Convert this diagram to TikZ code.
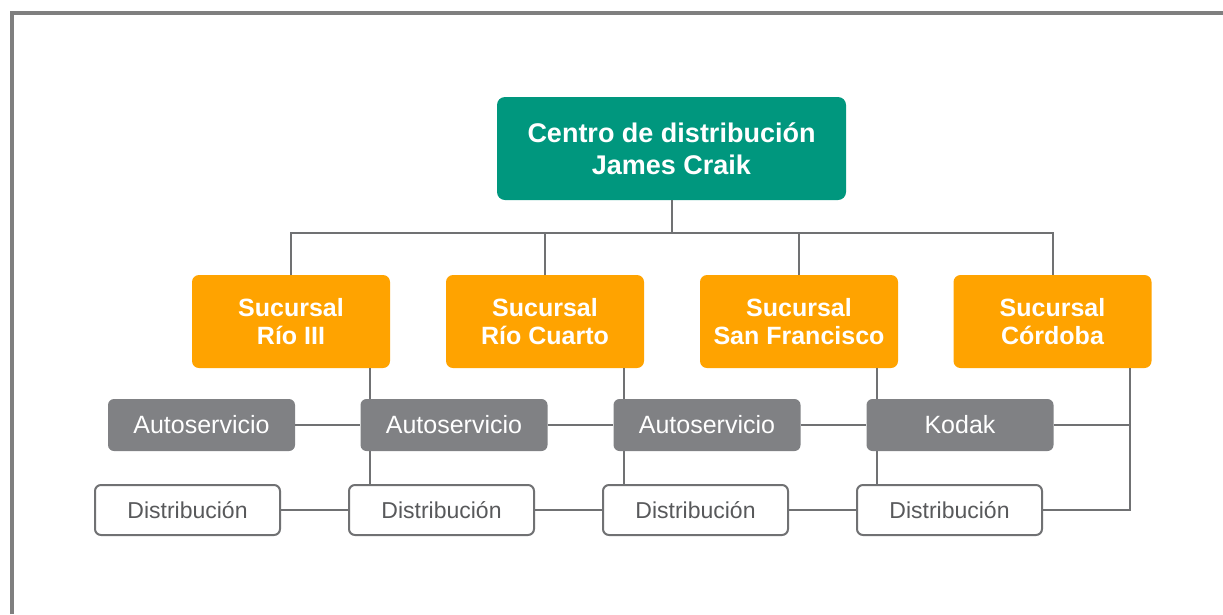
\documentclass[tikz,border=0pt]{standalone}
\usepackage{fontspec}
\setmainfont{Liberation Sans}
\usepackage{xcolor}
\definecolor{centroteal}{HTML}{00977E}
\definecolor{sucorange}{HTML}{FFA300}
\definecolor{autogray}{HTML}{808184}
\definecolor{linegray}{HTML}{707173}
\definecolor{textgray}{HTML}{58595B}
\definecolor{framegray}{HTML}{7F7F7F}
\usepackage{tikz}
\usetikzlibrary{positioning}
\tikzstyle{centro}=[rectangle, rounded corners=8, minimum width=349, minimum height=103, inner sep=0, align=center, fill=centroteal, text=white, font=\fontsize{27}{32}\selectfont\bfseries]
\tikzstyle{sucursal}=[rectangle, rounded corners=7, minimum width=198, minimum height=93, inner sep=0, align=center, fill=sucorange, text=white, font=\fontsize{25}{28}\selectfont\bfseries]
\tikzstyle{auto}=[rectangle, rounded corners=6, minimum width=187, minimum height=52, inner sep=0, align=center, fill=autogray, text=white, font=\fontsize{25}{28}\selectfont]
\tikzstyle{distrib}=[rectangle, rounded corners=6, minimum width=185, minimum height=50, inner sep=0, align=center, draw=linegray, line width=2, fill=white, text=textgray, font=\fontsize{23}{26}\selectfont]
\tikzstyle{line}=[line width=2, draw=linegray]

\begin{document}
\begin{tikzpicture}[x=1pt, y=-1pt]
		\useasboundingbox (0,0) rectangle (1223,614);
		\draw[line width=4, framegray] (12,614) -- (12,13) -- (1223,13);

		\node(n1)[centro] at (671.5,148.5) {Centro de distribución\\James Craik};
		\coordinate(bus) at (671.5,233);

		\node(n2-1)[sucursal] at (291,321.5) {Sucursal\\Río III};
		\node(n2-2)[sucursal] at (545,321.5) {Sucursal\\Río Cuarto};
		\node(n2-3)[sucursal] at (799,321.5) {Sucursal\\San Francisco};
		\node(n2-4)[sucursal] at (1052.5,321.5) {Sucursal\\Córdoba};

		\node(n3-1)[auto] at (201.5,425) {Autoservicio};
		\node(n3-2)[auto] at (454,425) {Autoservicio};
		\node(n3-3)[auto] at (707,425) {Autoservicio};
		\node(n3-4)[auto] at (960,425) {Kodak};

		\node(n4-1)[distrib] at (187.5,510) {Distribución};
		\node(n4-2)[distrib] at (441.5,510) {Distribución};
		\node(n4-3)[distrib] at (695.5,510) {Distribución};
		\node(n4-4)[distrib] at (949.5,510) {Distribución};

		\coordinate(v1) at (370,368);
		\coordinate(v2) at (624,368);
		\coordinate(v3) at (877,368);
		\coordinate(v4) at (1130,368);

		\draw[line](n1.south)--(bus);
		\draw[line](n2-1.north)--(n2-1.north |- bus)--(n2-4.north |- bus)--(n2-4.north);
		\draw[line](n2-2.north)--(n2-2.north |- bus);
		\draw[line](n2-3.north)--(n2-3.north |- bus);

		\draw[line](v1)--(v1 |- n3-2.north);
		\draw[line](v1 |- n3-2.south)--(v1 |- n4-2.north);
		\draw[line](v2)--(v2 |- n3-3.north);
		\draw[line](v2 |- n3-3.south)--(v2 |- n4-3.north);
		\draw[line](v3)--(v3 |- n3-4.north);
		\draw[line](v3 |- n3-4.south)--(v3 |- n4-4.north);
		\draw[line](v4)--(v4 |- n4-4.east)--(n4-4.east);

		\draw[line](n3-1.east)--(n3-2.west);
		\draw[line](n3-2.east)--(n3-3.west);
		\draw[line](n3-3.east)--(n3-4.west);
		\draw[line](n3-4.east)--(v4 |- n3-4.east);

		\draw[line](n4-1.east)--(n4-2.west);
		\draw[line](n4-2.east)--(n4-3.west);
		\draw[line](n4-3.east)--(n4-4.west);
	\end{tikzpicture}
\end{document}
